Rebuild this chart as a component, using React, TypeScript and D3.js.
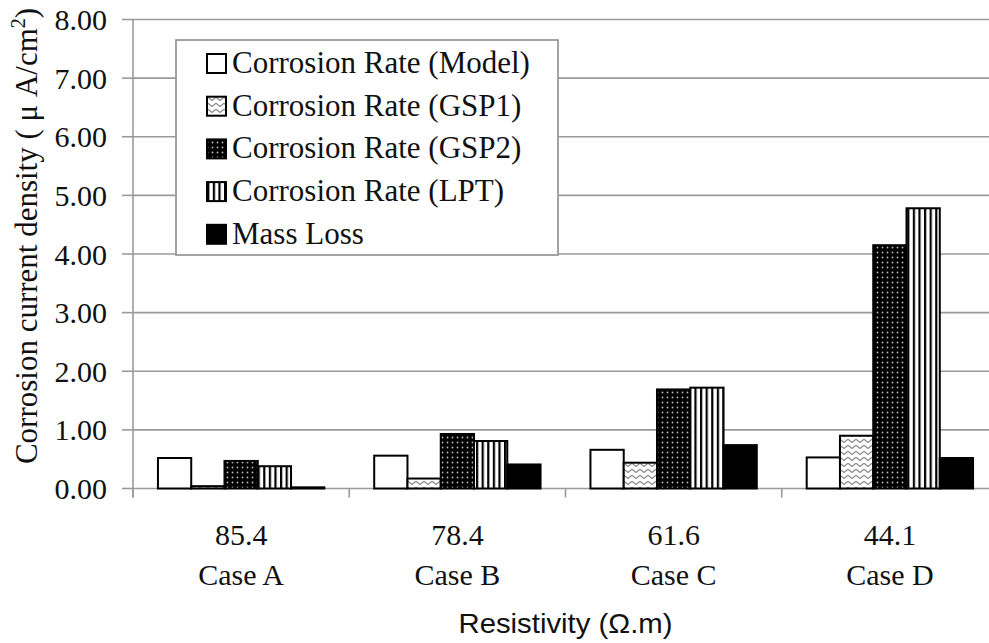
import React from "react";
import * as d3 from "d3";

const categories = ["85.4", "78.4", "61.6", "44.1"];
const caseLabels = ["Case A", "Case B", "Case C", "Case D"];
const seriesNames = [
  "Corrosion Rate (Model)",
  "Corrosion Rate (GSP1)",
  "Corrosion Rate (GSP2)",
  "Corrosion Rate (LPT)",
  "Mass Loss",
];
const modelValues = [0.52, 0.56, 0.66, 0.53];
const gsp1Values = [0.04, 0.17, 0.44, 0.9];
const gsp2Values = [0.47, 0.93, 1.69, 4.15];
const lptValues = [0.38, 0.81, 1.72, 4.78];
const massLossValues = [0.02, 0.41, 0.74, 0.52];
const yTicks = [0, 1, 2, 3, 4, 5, 6, 7, 8];

const seriesValues = [modelValues, gsp1Values, gsp2Values, lptValues, massLossValues];
const fills = ["#ffffff", "url(#pWave)", "url(#pDots)", "url(#pStripes)", "#000000"];

const W = 989;
const H = 643;
const left = 133;
const right = 998;
const top = 19.5;
const bottom = 488.5;
const serif = "'Liberation Serif', 'Times New Roman', serif";
const sans = "'Liberation Sans', Arial, sans-serif";
const gridColor = "#9a9a9a";

export default function App() {
  const x = d3.scaleBand<string>().domain(categories).range([left, right]).padding(0);
  const xi = d3
    .scaleBand<string>()
    .domain(seriesNames)
    .range([0, x.bandwidth()])
    .paddingInner(0)
    .paddingOuter(0.75);
  const y = d3.scaleLinear().domain([0, 8]).range([bottom, top]);

  const boundaries = categories.map((c) => x(c) as number).concat([right]);

  return (
    <svg
      width={W}
      height={H}
      style={{ position: "absolute", left: 0, top: 0, background: "#fff" }}
    >
      <defs>
        <pattern id="pWave" patternUnits="userSpaceOnUse" width="8" height="6">
          <rect width="8" height="6" fill="#fff" />
          <path d="M0,1.2 L4,4.4 L8,1.2" fill="none" stroke="#8a8a8a" strokeWidth="1.3" />
        </pattern>
        <pattern id="pDots" patternUnits="userSpaceOnUse" width="5" height="5">
          <rect width="5" height="5" fill="#000" />
          <circle cx="2.5" cy="2.5" r="0.9" fill="#bbb" />
        </pattern>
        <pattern id="pStripes" patternUnits="userSpaceOnUse" width="5.6" height="10">
          <rect width="5.6" height="10" fill="#fff" />
          <rect width="2.2" height="10" fill="#000" />
        </pattern>
      </defs>

      {/* gridlines */}
      {yTicks.map((t) => (
        <line
          key={"g" + t}
          x1={left}
          x2={right}
          y1={y(t)}
          y2={y(t)}
          stroke={gridColor}
          strokeWidth={1.6}
        />
      ))}
      {/* y axis line and ticks */}
      <line x1={left} x2={left} y1={top} y2={bottom + 9} stroke={gridColor} strokeWidth={1.6} />
      {yTicks.map((t) => (
        <line
          key={"yt" + t}
          x1={left - 11}
          x2={left}
          y1={y(t)}
          y2={y(t)}
          stroke={gridColor}
          strokeWidth={1.6}
        />
      ))}
      {yTicks.map((t) => (
        <text
          key={"yl" + t}
          x={107}
          y={y(t)}
          textAnchor="end"
          dominantBaseline="central"
          fontFamily={serif}
          fontSize={30}
          fill="#111"
        >
          {t.toFixed(2)}
        </text>
      ))}
      {/* category ticks */}
      {boundaries.map((b, i) => (
        <line
          key={"ct" + i}
          x1={b}
          x2={b}
          y1={bottom}
          y2={bottom + 9}
          stroke={gridColor}
          strokeWidth={1.6}
        />
      ))}

      {/* bars */}
      {seriesNames.map((s, si) =>
        categories.map((c, ci) => {
          const v = seriesValues[si][ci];
          const bx = (x(c) as number) + (xi(s) as number);
          return (
            <rect
              key={s + c}
              x={bx}
              y={y(v)}
              width={xi.bandwidth()}
              height={bottom - y(v)}
              fill={fills[si]}
              stroke="#000"
              strokeWidth={2}
            />
          );
        })
      )}

      {/* x labels */}
      {categories.map((c, i) => {
        const cx = (x(c) as number) + x.bandwidth() / 2;
        return (
          <g key={"xl" + c}>
            <text x={cx} y={545} textAnchor="middle" fontFamily={serif} fontSize={30} fill="#111">
              {c}
            </text>
            <text x={cx} y={585} textAnchor="middle" fontFamily={serif} fontSize={30} fill="#111">
              {caseLabels[i]}
            </text>
          </g>
        );
      })}

      {/* x title */}
      <text
        x={(left + right) / 2}
        y={633}
        textAnchor="middle"
        fontFamily={sans}
        fontSize={28}
        textLength={214}
        lengthAdjust="spacingAndGlyphs"
        fill="#111"
      >
        Resistivity (Ω.m)
      </text>

      {/* y title */}
      <text
        transform={`translate(37,236) rotate(-90)`}
        textAnchor="middle"
        fontFamily={serif}
        fontSize={31}
        fill="#111"
      >
        Corrosion current density ( μ A/cm
        <tspan dy={-12} fontSize={20}>2</tspan>
        <tspan dy={12}>)</tspan>
      </text>

      {/* legend */}
      <rect x={176} y={40} width={382} height={215} fill="#fff" stroke={gridColor} strokeWidth={1.8} />
      {seriesNames.map((s, i) => {
        const base = 73 + i * 42.7;
        return (
          <g key={"lg" + s}>
            <rect
              x={207}
              y={base - 19}
              width={19}
              height={19}
              fill={fills[i]}
              stroke="#000"
              strokeWidth={2}
            />
            <text x={232} y={base} fontFamily={serif} fontSize={31} fill="#111">
              {s}
            </text>
          </g>
        );
      })}
    </svg>
  );
}
